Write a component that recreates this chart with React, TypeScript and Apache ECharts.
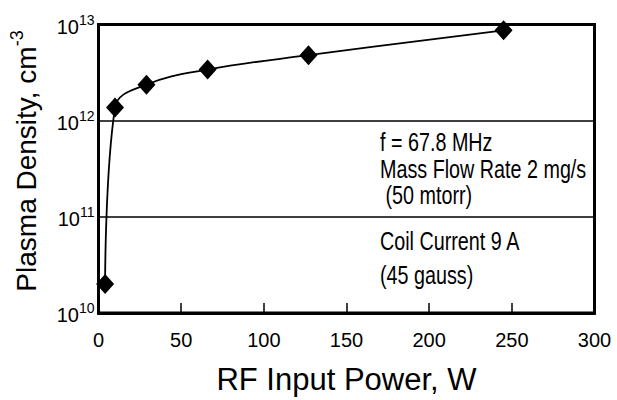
import React, { useEffect, useRef } from "react";
import * as echarts from "echarts";

const powerW = [4, 10, 29, 66, 127, 245];
const densityCm3 = [2.0e10, 1.37e12, 2.37e12, 3.4e12, 4.8e12, 8.7e12];
const xTicks = [0, 50, 100, 150, 200, 250, 300];
const annotationLines = [
  "f = 67.8 MHz",
  "Mass Flow Rate 2 mg/s",
  " (50 mtorr)",
  "Coil Current 9 A",
  "(45 gauss)",
];
const annotationY = [143, 170, 196, 242, 276];

const SANS = "'Liberation Sans', Arial, Helvetica, sans-serif";

export default function App() {
  const ref = useRef<HTMLDivElement>(null);
  useEffect(() => {
    if (!ref.current) return;
    const chart = echarts.init(ref.current, null, { renderer: "svg" });
    const data = powerW.map((p, i) => [p, densityCm3[i]]);
    chart.setOption({
      animation: false,
      backgroundColor: "#fff",
      grid: {
        left: 98.5,
        top: 24.5,
        right: 22.5,
        bottom: 82.5,
        show: true,
        borderColor: "#000",
        borderWidth: 3,
        backgroundColor: "transparent",
      },
      xAxis: {
        type: "value",
        min: xTicks[0],
        max: xTicks[xTicks.length - 1],
        interval: 50,
        name: "RF Input Power, W",
        nameLocation: "middle",
        nameGap: 51,
        nameTextStyle: { fontFamily: SANS, fontSize: 31, color: "#000" },
        axisLine: { show: true, lineStyle: { color: "#000", width: 3 } },
        axisTick: { show: true, inside: true, length: 10, lineStyle: { color: "#000", width: 1.5 } },
        axisLabel: { fontFamily: SANS, fontSize: 20, color: "#000", margin: 17 },
        splitLine: { show: false },
      },
      yAxis: {
        type: "log",
        logBase: 10,
        min: 1e10,
        max: 1e13,
        axisLine: { show: true, lineStyle: { color: "#000", width: 3 } },
        axisTick: { show: false },
        splitLine: { show: true, lineStyle: { color: "#000", width: 1.5 } },
        axisLabel: {
          margin: 4,
          formatter: (v: number) => `{b|10}{s|${Math.round(Math.log10(v))}}`,
          rich: {
            b: { fontFamily: SANS, fontSize: 20, lineHeight: 24, verticalAlign: "bottom", color: "#000" },
            s: { fontFamily: SANS, fontSize: 14, lineHeight: 14, verticalAlign: "top", color: "#000" },
          },
        },
      },
      graphic: [
        {
          type: "text",
          x: 24,
          y: 161,
          rotation: Math.PI / 2,
          style: {
            text: "{a|Plasma Density, cm}{s|-3}",
            align: "center",
            verticalAlign: "middle",
            rich: {
              a: { fontFamily: SANS, fontSize: 28, lineHeight: 32, verticalAlign: "bottom", fill: "#000", color: "#000" },
              s: { fontFamily: SANS, fontSize: 18, lineHeight: 18, verticalAlign: "top", fill: "#000", color: "#000" },
            },
          },
        },
        ...annotationLines.map((t, i) => ({
          type: "text",
          x: 380,
          y: annotationY[i],
          scaleX: 0.79,
          style: {
            text: t,
            font: `25px ${SANS}`,
            fill: "#000",
            align: "left",
            verticalAlign: "middle",
          },
        })),
      ],
      series: [
        {
          type: "line",
          data,
          smooth: 0.4,
          symbol: "diamond",
          symbolSize: [18, 20],
          itemStyle: { color: "#000" },
          lineStyle: { color: "#000", width: 1.8 },
        },
      ],
    });
    return () => chart.dispose();
  }, []);
  return (
    <div
      ref={ref}
      style={{ position: "absolute", left: 0, top: 0, width: 617, height: 400 }}
    />
  );
}
